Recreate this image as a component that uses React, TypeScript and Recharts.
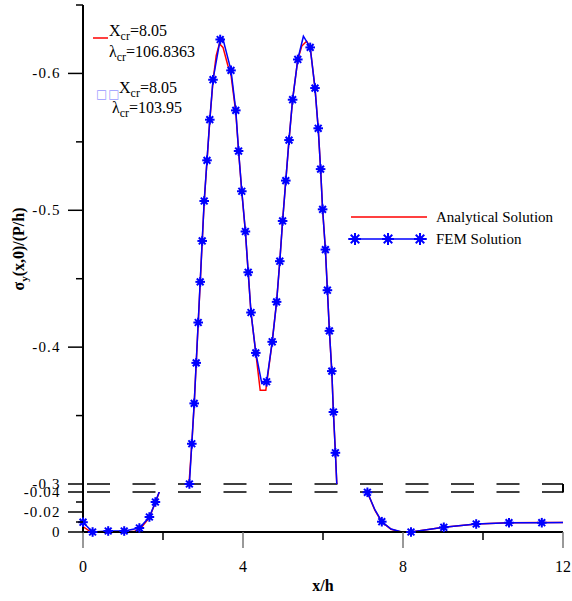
import React from "react";
import { LineChart, Line, XAxis, YAxis, ReferenceLine, Legend } from "recharts";

const SERIF = "'Liberation Serif', 'Times New Roman', serif";

// FEM solution (blue), 1 = drawn with a star marker
const FEM_X = [
  0.0, 0.24, 0.63, 1.03, 1.41, 1.66, 1.81, 2.0, 2.35, 2.66, 2.72, 2.78, 2.83, 2.88, 2.93, 2.98,
  3.03, 3.1, 3.17, 3.25, 3.43, 3.49, 3.7, 3.82, 3.89, 3.97, 4.06, 4.13, 4.2, 4.32, 4.47, 4.59,
  4.73, 4.84, 4.92, 4.99, 5.07, 5.15, 5.24, 5.37, 5.51, 5.68, 5.8, 5.88, 5.94, 5.99, 6.06, 6.11,
  6.16, 6.22, 6.26, 6.31, 6.36, 6.7, 7.11, 7.3, 7.47, 7.7, 7.95, 8.2, 9.02, 9.83, 10.65, 11.47, 12.0,
];
const FEM_Y = [
  -0.0098, 0.0, -0.001, -0.001, -0.004, -0.015, -0.03, -0.05, -0.17, -0.3, -0.3294, -0.3589,
  -0.3885, -0.418, -0.4477, -0.4776, -0.5068, -0.5365, -0.5662, -0.5954, -0.6248, -0.6262,
  -0.6022, -0.573, -0.5433, -0.5139, -0.4845, -0.4547, -0.4253, -0.3958, -0.3735, -0.3747,
  -0.4039, -0.4331, -0.4628, -0.4922, -0.5217, -0.5513, -0.5808, -0.6102, -0.6272, -0.619,
  -0.5893, -0.5599, -0.5301, -0.5007, -0.4713, -0.4416, -0.4119, -0.3825, -0.3526, -0.3228,
  -0.29, -0.16, -0.0397, -0.022, -0.0103, -0.003, -0.0002, 0.0, -0.0047, -0.008, -0.0093,
  -0.0093, -0.0094,
];
const FEM_MARK = [
  1, 1, 1, 1, 1, 1, 1, 0, 0, 1, 1, 1, 1, 1, 1, 1, 1, 1, 1, 1, 1, 0, 1, 1, 1, 1, 1, 1, 1, 1, 0, 1,
  1, 1, 1, 1, 1, 1, 1, 1, 0, 1, 1, 1, 1, 1, 1, 1, 1, 1, 1, 1, 0, 0, 1, 0, 1, 0, 0, 1, 1, 1, 1, 1, 0,
];

// analytical solution (red)
const ANA_X = [
  0.0, 0.18, 0.4, 1.0, 1.3, 1.45, 1.66, 1.81, 2.0, 2.35, 2.65, 2.72, 2.78, 2.83, 2.88, 2.93,
  2.98, 3.03, 3.1, 3.17, 3.25, 3.33, 3.41, 3.5, 3.62, 3.7, 3.82, 3.89, 3.97, 4.06, 4.13, 4.2,
  4.32, 4.43, 4.57, 4.73, 4.84, 4.92, 4.99, 5.07, 5.15, 5.24, 5.37, 5.47, 5.59, 5.68, 5.8, 5.88,
  5.94, 5.99, 6.06, 6.11, 6.16, 6.22, 6.26, 6.31, 6.36, 6.7, 7.11, 7.3, 7.47, 7.7, 7.95, 8.2,
  9.02, 9.83, 10.65, 11.47, 12.0,
];
const ANA_Y = [
  -0.0053, -0.0005, 0.0, 0.0, -0.0008, -0.004, -0.0145, -0.0295, -0.05, -0.17, -0.3, -0.329,
  -0.3585, -0.388, -0.4175, -0.447, -0.477, -0.506, -0.536, -0.5655, -0.5945, -0.613, -0.6217,
  -0.619, -0.606, -0.599, -0.5715, -0.543, -0.5135, -0.484, -0.4545, -0.425, -0.3958, -0.3685,
  -0.3685, -0.4039, -0.4331, -0.4628, -0.4922, -0.5217, -0.5513, -0.5808, -0.6102, -0.62,
  -0.6236, -0.619, -0.5893, -0.5599, -0.5301, -0.5007, -0.4713, -0.4416, -0.4119, -0.3825,
  -0.3526, -0.3228, -0.29, -0.16, -0.0397, -0.0215, -0.01, -0.0028, 0.0, -0.0001, -0.0048,
  -0.0081, -0.0092, -0.0094, -0.0094,
];

const X_TICKS = [0, 2, 4, 6, 8, 10, 12];
const UPPER_TICKS = [-0.65, -0.6, -0.55, -0.5, -0.45, -0.4, -0.35, -0.3];
const LOWER_TICKS = [-0.04, -0.03, -0.02, -0.01, 0];
const UPPER_RANGE = [-0.65, -0.3];
const LOWER_RANGE = [-0.04, 0];
const BREAK_GAP = -0.2938;

const fem = FEM_X.map((x, i) => ({ x, y: FEM_Y[i] }));
const ana = ANA_X.map((x, i) => ({ x, y: ANA_Y[i] }));
const marks = fem.filter((_, i) => FEM_MARK[i] === 1);
const upperMarks = marks.filter((p) => p.y <= UPPER_RANGE[1] + 1e-9);
const lowerMarks = marks.filter((p) => p.y >= LOWER_RANGE[0] - 1e-9);

const frame = { stroke: "#000", strokeWidth: 2 };

function Star({ cx, cy, s = 4.8 }: { cx: number; cy: number; s?: number }) {
  if (cx == null || cy == null) return null;
  const d = s * 0.7071;
  return (
    <g stroke="#0000ff" strokeWidth={2} fill="#0000ff">
      <line x1={cx - s} y1={cy} x2={cx + s} y2={cy} />
      <line x1={cx} y1={cy - s} x2={cx} y2={cy + s} />
      <line x1={cx - d} y1={cy - d} x2={cx + d} y2={cy + d} />
      <line x1={cx - d} y1={cy + d} x2={cx + d} y2={cy - d} />
      <circle cx={cx} cy={cy} r={2.7} stroke="none" />
    </g>
  );
}

const starDot = (p: any) => <Star key={`s-${p.index}`} cx={p.cx} cy={p.cy} />;

function yLabel(x: number, y: number, text: string) {
  return (
    <text
      x={x - 22.5}
      y={y + 5}
      textAnchor="end"
      fontSize={15}
      letterSpacing={1.1}
      fontFamily={SERIF}
      fill="#000"
    >
      {text}
    </text>
  );
}

function UpperTick({ x, y, payload }: any) {
  const v = payload.value;
  const major = Math.abs(v * 10 - Math.round(v * 10)) < 1e-6;
  return (
    <g>
      <line x1={x - (major ? 15 : 7)} x2={x} y1={y} y2={y} stroke="#000" strokeWidth={1.5} />
      {major && yLabel(x, y, v.toFixed(1))}
    </g>
  );
}

function LowerTick({ x, y, payload }: any) {
  const v = payload.value;
  const major = Math.abs(v * 50 - Math.round(v * 50)) < 1e-6;
  return (
    <g>
      <line x1={x - (major ? 15 : 7)} x2={x} y1={y} y2={y} stroke="#000" strokeWidth={1.5} />
      {major && yLabel(x, y, v === 0 ? "0" : v.toFixed(2))}
    </g>
  );
}

function XTick({ x, y, payload }: any) {
  const v = payload.value;
  const major = v % 4 === 0;
  return (
    <g>
      <line x1={x} x2={x} y1={y} y2={y + (major ? 16 : 8)} stroke={major ? "#777" : "#000"} strokeWidth={1.5} />
      {major && (
        <text x={x} y={y + 40} textAnchor="middle" fontSize={16} fontFamily={SERIF} fill="#000">
          {v}
        </text>
      )}
    </g>
  );
}

function LegendBox() {
  return (
    <svg width={225} height={45} style={{ display: "block", fontFamily: SERIF }}>
      <line x1={6} y1={12} x2={82} y2={12} stroke="#ff0000" strokeWidth={1.5} />
      <text x={91} y={17} fontSize={15} fill="#000">Analytical Solution</text>
      <line x1={3} y1={34} x2={82} y2={34} stroke="#0000ff" strokeWidth={1.5} />
      <Star cx={10} cy={34} s={6} />
      <Star cx={43} cy={34} s={6} />
      <Star cx={75} cy={34} s={6} />
      <text x={91} y={39} fontSize={15} fill="#000">FEM Solution</text>
    </svg>
  );
}

function Notes() {
  return (
    <svg
      width={572}
      height={601}
      style={{ position: "absolute", left: 0, top: 0, pointerEvents: "none", fontFamily: SERIF }}
    >
      <line x1={93} y1={38} x2={108} y2={38} stroke="#ff0000" strokeWidth={1.5} />
      <text x={109} y={36} fontSize={16}>
        X<tspan fontSize={12} dy={4}>cr</tspan>
        <tspan dy={-4}>=8.05</tspan>
      </text>
      <text x={109} y={56.5} fontSize={16}>
        λ<tspan fontSize={12} dy={4}>cr</tspan>
        <tspan dy={-4}>=106.8363</tspan>
      </text>
      <text x={96} y={98} fontSize={12} letterSpacing={1} fill="#9999ff" fontFamily="'DejaVu Sans'">
        □□
      </text>
      <text x={119} y={93} fontSize={16}>
        X<tspan fontSize={12} dy={4}>cr</tspan>
        <tspan dy={-4}>=8.05</tspan>
      </text>
      <text x={112} y={113} fontSize={16}>
        λ<tspan fontSize={12} dy={4}>cr</tspan>
        <tspan dy={-4}>=103.95</tspan>
      </text>
      <text
        x={24}
        y={249}
        transform="rotate(-90 24 249)"
        textAnchor="middle"
        fontSize={16}
        fontWeight="bold"
      >
        σ<tspan fontSize={11} dy={4}>y</tspan>
        <tspan dy={-4}>(x,0)/(P/h)</tspan>
      </text>
    </svg>
  );
}

export default function App() {
  return (
    <div style={{ position: "absolute", left: 0, top: 0, width: 572, height: 601, background: "#fff", fontFamily: SERIF }}>
      <div style={{ position: "absolute", left: 0, top: 0 }}>
        <LineChart width={572} height={500} margin={{ top: 5, right: 9, bottom: 16, left: 0 }}>
          <XAxis
            xAxisId="x"
            type="number"
            dataKey="x"
            domain={[0, 12]}
            orientation="top"
            height={0}
            tick={false}
            tickLine={false}
            axisLine={frame}
          />
          <YAxis
            yAxisId="v"
            type="number"
            domain={UPPER_RANGE}
            reversed
            allowDataOverflow
            width={83}
            ticks={UPPER_TICKS}
            interval={0}
            tickSize={0}
            tickMargin={0}
            tickLine={false}
            tick={UpperTick}
            axisLine={frame}
          />
          <YAxis
            yAxisId="m"
            orientation="right"
            type="number"
            domain={UPPER_RANGE}
            reversed
            width={0}
            tick={false}
            tickLine={false}
            axisLine={frame}
          />
          <ReferenceLine
            xAxisId="x"
            yAxisId="v"
            y={UPPER_RANGE[1]}
            stroke="#000"
            strokeWidth={1.5}
            strokeDasharray="23 22.5"
            strokeDashoffset={-4}
          />
          <ReferenceLine
            xAxisId="x"
            yAxisId="v"
            segment={[{ x: 0, y: UPPER_RANGE[1] }, { x: 0, y: BREAK_GAP }]}
            ifOverflow="visible"
            {...frame}
          />
          <ReferenceLine
            xAxisId="x"
            yAxisId="v"
            segment={[{ x: 12, y: UPPER_RANGE[1] }, { x: 12, y: BREAK_GAP }]}
            ifOverflow="visible"
            {...frame}
          />
          <Line xAxisId="x" yAxisId="v" data={ana} dataKey="y" stroke="#ff0000" strokeWidth={1.5} dot={false} activeDot={false} isAnimationActive={false} />
          <Line xAxisId="x" yAxisId="v" data={fem} dataKey="y" stroke="#0000ff" strokeWidth={1.5} dot={false} activeDot={false} isAnimationActive={false} />
          <Line xAxisId="x" yAxisId="m" data={upperMarks} dataKey="y" stroke="none" dot={starDot} activeDot={false} isAnimationActive={false} />
          <Legend
            layout="vertical"
            align="center"
            verticalAlign="middle"
            wrapperStyle={{ top: 205, left: 345, width: 225, height: 45 }}
            content={() => <LegendBox />}
          />
        </LineChart>
      </div>
      <div style={{ position: "absolute", left: 0, top: 470 }}>
        <LineChart width={572} height={131} margin={{ top: 22, right: 9, bottom: 0, left: 0 }}>
          <XAxis
            xAxisId="x"
            type="number"
            dataKey="x"
            domain={[0, 12]}
            ticks={X_TICKS}
            interval={0}
            height={69}
            tickSize={0}
            tickMargin={0}
            tickLine={false}
            tick={XTick}
            axisLine={frame}
            label={{
              value: "x/h",
              position: "insideBottom",
              offset: 10,
              fontSize: 16,
              fontWeight: "bold",
              fontFamily: SERIF,
              fill: "#000",
            }}
          />
          <YAxis
            yAxisId="v"
            type="number"
            domain={LOWER_RANGE}
            reversed
            allowDataOverflow
            width={83}
            ticks={LOWER_TICKS}
            interval={0}
            tickSize={0}
            tickMargin={0}
            tickLine={false}
            tick={LowerTick}
            axisLine={frame}
          />
          <YAxis
            yAxisId="m"
            orientation="right"
            type="number"
            domain={LOWER_RANGE}
            reversed
            width={0}
            tick={false}
            tickLine={false}
            axisLine={frame}
          />
          <ReferenceLine
            xAxisId="x"
            yAxisId="v"
            y={LOWER_RANGE[0]}
            stroke="#000"
            strokeWidth={1.5}
            strokeDasharray="23 22.5"
            strokeDashoffset={-4}
          />
          <Line xAxisId="x" yAxisId="v" data={ana} dataKey="y" stroke="#ff0000" strokeWidth={1.5} dot={false} activeDot={false} isAnimationActive={false} />
          <Line xAxisId="x" yAxisId="v" data={fem} dataKey="y" stroke="#0000ff" strokeWidth={1.5} dot={false} activeDot={false} isAnimationActive={false} />
          <Line xAxisId="x" yAxisId="m" data={lowerMarks} dataKey="y" stroke="none" dot={starDot} activeDot={false} isAnimationActive={false} />
        </LineChart>
      </div>
      <Notes />
    </div>
  );
}
